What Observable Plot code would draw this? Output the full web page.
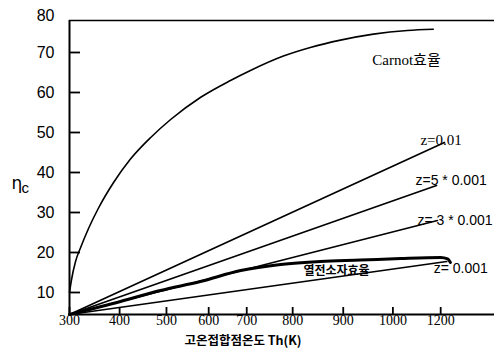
<!DOCTYPE html>
<html><head><meta charset="utf-8">
<script src="https://cdn.jsdelivr.net/npm/d3@7"></script>
<script src="https://cdn.jsdelivr.net/npm/@observablehq/plot@0.6"></script>
<style>html,body{margin:0;padding:0;background:#fff}#chart svg{display:block}</style>
</head><body><div id="chart"></div>
<script>
// Carnot efficiency curve (Th in K, efficiency in %)
const carnotT   = [300, 304, 313, 324, 341, 362, 395, 431, 475, 518, 582, 647, 690, 761, 819, 884, 955, 1028, 1084];
const carnotEta = [10, 13, 17.75, 21.25, 26, 31, 37.5, 43.3, 48.75, 53.25, 58.75, 63, 65.5, 69.1, 71.25, 73.1, 74.6, 75.5, 75.8];

// Thermoelectric device efficiency curve
const deviceT   = [300, 410, 496, 582, 669, 755, 841, 927, 1014, 1100, 1115, 1121];
const deviceEta = [4.5, 7.75, 10.5, 12.75, 15.5, 17, 17.75, 18.1, 18.5, 18.75, 18.4, 17.5];

// Straight lines for several z values (start shared, end)
const zLabels   = ["z=0.01", "z=5 * 0.001", "z= 3 * 0.001", "z= 0.001"];
const zStartT   = [300, 300, 300, 300];
const zStartEta = [4.5, 4.5, 4.5, 4.5];
const zEndT     = [1108, 1091, 1093, 1113];
const zEndEta   = [47.5, 36.75, 28, 17.75];

// Axis ticks
const xTickValues = [300, 408, 509, 600, 682, 781, 890, 997, 1100];
const xTickLabels = ["300", "400", "500", "600", "700", "800", "900", "1000", "1200"];
const yTickValues = [10, 20, 30, 40, 50, 60, 70];
const yTopLabel   = [80];

// Texts
const carnotLabel = "Carnot효율";
const deviceLabel = "열전소자효율";
const xTitle = "고온접합점온도 Th(K)";

const xDomain = [300, 1216];
const yDomain = [4.5, 80];
const yFrameTop = 78;

const carnot = carnotT.map((t, i) => ({t, eta: carnotEta[i]}));
const device = deviceT.map((t, i) => ({t, eta: deviceEta[i]}));
const zLines = zLabels.flatMap((z, i) => [
  {z, t: zStartT[i], eta: zStartEta[i]},
  {z, t: zEndT[i], eta: zEndEta[i]}
]);
const zEnds = zLabels.map((z, i) => ({z, t: zEndT[i], eta: zEndEta[i]}));
const xTicks = xTickValues.map((v, i) => ({v, label: xTickLabels[i]}));

const serif = "'Liberation Serif', 'Noto Sans CJK KR', serif";
const sans = "'Liberation Sans', Arial, sans-serif";
const kr = "'Noto Sans CJK KR', sans-serif";

const plot = Plot.plot({
  width: 494, height: 350,
  marginLeft: 69, marginRight: 0, marginTop: 12, marginBottom: 36,
  x: {domain: xDomain, label: null},
  y: {domain: yDomain, label: null},
  style: {background: "white", color: "black"},
  marks: [
    // frame lines
    Plot.ruleY([{y: yFrameTop}], {y: "y", strokeWidth: 1.5}),
    Plot.ruleY([{y: yDomain[0]}], {y: "y", strokeWidth: 2}),
    Plot.ruleX([{x: xDomain[0], y1: yDomain[0], y2: yFrameTop}], {x: "x", y1: "y1", y2: "y2", strokeWidth: 2}),
    // axes
    Plot.axisY(yTickValues, {anchor: "left", tickSize: -11, tickPadding: 26, strokeWidth: 1.8, fontSize: 16, fontFamily: sans, label: null}),
    Plot.axisY(yTopLabel, {anchor: "left", tickSize: 0, tickPadding: 15, dy: 3, fontSize: 16, fontFamily: sans, label: null}),
    Plot.axisX(xTickValues, {anchor: "bottom", tickSize: -7, strokeWidth: 1.8, fill: "none", label: null}),
    Plot.text(xTicks, {x: "v", text: "label", frameAnchor: "bottom", lineAnchor: "top", dy: 1, fontSize: 14, fontFamily: serif}),
    // curves
    Plot.line(carnot, {x: "t", y: "eta", curve: "monotone-x", strokeWidth: 1.6}),
    Plot.line(zLines, {x: "t", y: "eta", z: "z", strokeWidth: 1.7}),
    Plot.line(device, {x: "t", y: "eta", curve: "monotone-x", strokeWidth: 3}),
    // series labels
    Plot.text([carnot[carnot.length - 1]], {x: "t", y: "eta", text: () => carnotLabel, textAnchor: "start", dx: -61, dy: 31, fontSize: 15, fontFamily: serif}),
    Plot.text([zEnds[0]], {x: "t", y: "eta", text: "z", textAnchor: "start", dx: -24, dy: -2, fontSize: 15, fontFamily: serif}),
    Plot.text([zEnds[1]], {x: "t", y: "eta", text: "z", textAnchor: "start", dx: -21, dy: -5, fontSize: 14, fontFamily: sans}),
    Plot.text([zEnds[2]], {x: "t", y: "eta", text: "z", textAnchor: "start", dx: -20, dy: 0, fontSize: 14, fontFamily: sans}),
    Plot.text([zEnds[3]], {x: "t", y: "eta", text: "z", textAnchor: "start", dx: -13, dy: 7, fontSize: 14, fontFamily: sans}),
    Plot.text([device[6]], {x: "t", y: "eta", text: () => deviceLabel, textAnchor: "middle", dx: 16, dy: 10, fontSize: 12, fontWeight: "bold", fontFamily: kr}),
    // axis titles
    Plot.text([xTitle], {frameAnchor: "bottom", text: d => d, dx: -39, dy: 30, fontSize: 12.5, fontWeight: "bold", fontFamily: kr}),
    Plot.text(["η"], {frameAnchor: "left", text: d => d, dx: -58, dy: 20, fontSize: 17, fontFamily: "'DejaVu Sans', sans-serif"}),
    Plot.text(["c"], {frameAnchor: "left", text: d => d, dx: -48, dy: 25, fontSize: 15, fontFamily: sans})
  ]
});
document.getElementById("chart").appendChild(plot);
</script>
</body></html>
